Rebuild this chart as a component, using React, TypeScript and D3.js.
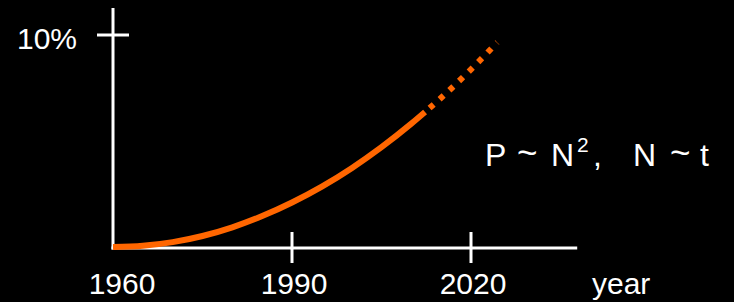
import { useEffect, useRef } from "react";
import * as d3 from "d3";

// growth curve (percent)
const solidYears = [1960, 1965, 1970, 1975, 1980, 1985, 1990, 1995, 2000, 2005, 2010, 2012.3];
const solidValues = [0, 0.06, 0.23, 0.52, 0.93, 1.46, 2.1, 2.85, 3.72, 4.71, 5.82, 6.37];
const dottedYears = [2012.3, 2015, 2020, 2024.4];
const dottedValues = [6.37, 7.04, 8.38, 9.65];

const xTicks = [1960, 1990, 2020];
const xTickLabels = ["1960", "1990", "2020"];
const yTicks = [10];
const yTickLabels = ["10%"];

const ORANGE = "#ff6600";
const FONT = "'Liberation Sans', Arial, sans-serif";

const App = () => {
  const svgRef = useRef<SVGSVGElement>(null);

  useEffect(() => {
    const width = 734,
      height = 302;

    d3.select(svgRef.current).selectAll("*").remove();

    const svg = d3
      .select(svgRef.current)
      .attr("width", width)
      .attr("height", height);

    svg.append("rect").attr("width", width).attr("height", height).attr("fill", "#000");

    const x = d3.scaleLinear().domain([1960, 2020]).range([113, 471]);
    const y = d3.scaleLinear().domain([0, 10]).range([247, 35]);

    const axisY = 248;
    const axisEnd = 2037.8;

    // axes
    svg.append("line")
      .attr("x1", x(1960)).attr("x2", x(1960))
      .attr("y1", 8).attr("y2", axisY + 1.5)
      .attr("stroke", "#fff").attr("stroke-width", 3);

    svg.append("line")
      .attr("x1", x(1960) - 1.5).attr("x2", x(axisEnd))
      .attr("y1", axisY).attr("y2", axisY)
      .attr("stroke", "#fff").attr("stroke-width", 3);

    // x ticks
    svg.selectAll(".xtick")
      .data(xTicks.slice(1))
      .enter()
      .append("line")
      .attr("x1", (d) => x(d)).attr("x2", (d) => x(d))
      .attr("y1", axisY - 16).attr("y2", axisY + 15)
      .attr("stroke", "#fff").attr("stroke-width", 3);

    svg.selectAll(".xlabel")
      .data(xTicks)
      .enter()
      .append("text")
      .attr("x", (d, i) => x(d) + (i === 0 ? 9 : 2))
      .attr("y", 294)
      .attr("text-anchor", "middle")
      .attr("fill", "#fff")
      .style("font-family", FONT)
      .style("font-size", "30px")
      .text((d, i) => xTickLabels[i]);

    svg.append("text")
      .attr("x", 592).attr("y", 294)
      .attr("fill", "#fff")
      .style("font-family", FONT)
      .style("font-size", "30px")
      .text("year");

    // y ticks
    svg.selectAll(".ytick")
      .data(yTicks)
      .enter()
      .append("line")
      .attr("x1", x(1960) - 16).attr("x2", x(1960) + 16)
      .attr("y1", (d) => y(d)).attr("y2", (d) => y(d))
      .attr("stroke", "#fff").attr("stroke-width", 3);

    svg.selectAll(".ylabel")
      .data(yTicks)
      .enter()
      .append("text")
      .attr("x", 77)
      .attr("y", (d) => y(d) + 14)
      .attr("text-anchor", "end")
      .attr("fill", "#fff")
      .style("font-family", FONT)
      .style("font-size", "30px")
      .text((d, i) => yTickLabels[i]);

    const line = d3
      .line<number>()
      .x((d) => x(d))
      .curve(d3.curveMonotoneX);

    svg.append("path")
      .attr("d", line.y((d, i) => y(solidValues[i]))(solidYears))
      .attr("fill", "none")
      .attr("stroke", ORANGE)
      .attr("stroke-width", 6);

    svg.append("path")
      .attr("d", line.y((d, i) => y(dottedValues[i]))(dottedYears))
      .attr("fill", "none")
      .attr("stroke", ORANGE)
      .attr("stroke-width", 6)
      .attr("stroke-dasharray", "5.5 7.9")
      .attr("stroke-dashoffset", -6);

    // formula
    const t = svg.append("text")
      .attr("y", 166)
      .attr("fill", "#fff")
      .style("font-family", FONT)
      .style("font-size", "32px");
    t.append("tspan").attr("x", 485).text("P");
    t.append("tspan").attr("x", 517).attr("y", 165).style("font-size", "35px").text("~");
    t.append("tspan").attr("x", 551).attr("y", 166).text("N");
    t.append("tspan").attr("x", 577).attr("y", 152).style("font-size", "21px").text("2");
    t.append("tspan").attr("x", 593).attr("y", 166).text(",");
    t.append("tspan").attr("x", 633).text("N");
    t.append("tspan").attr("x", 670).attr("y", 165).style("font-size", "35px").text("~");
    t.append("tspan").attr("x", 700).attr("y", 166).text("t");
  }, []);

  return (
    <div>
      <svg ref={svgRef} style={{ position: "absolute", left: 0, top: 0, display: "block" }}></svg>
    </div>
  );
};

export default App;
